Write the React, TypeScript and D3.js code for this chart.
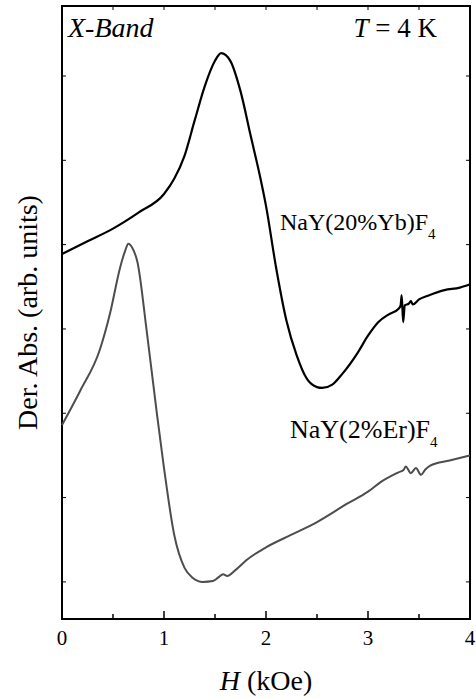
import React, {useEffect, useRef} from "react";
import * as d3 from "d3";

// field in kOe, derivative signal in arbitrary units (tick spacing = 1)
const ybField = [0, 0.25, 0.5, 0.75, 1.0, 1.1, 1.2, 1.3, 1.4, 1.5, 1.56, 1.65, 1.75, 1.85, 1.95, 2.0, 2.1, 2.2, 2.3, 2.4, 2.5, 2.55, 2.65, 2.75, 2.9, 3.0, 3.1, 3.2, 3.3, 3.32, 3.33, 3.345, 3.36, 3.4, 3.42, 3.44, 3.5, 3.6, 3.75, 3.9, 4.0];
const ybSignal = [3.89, 4.04, 4.19, 4.38, 4.60, 4.78, 5.05, 5.47, 5.88, 6.18, 6.27, 6.18, 5.82, 5.29, 4.76, 4.46, 3.72, 3.10, 2.69, 2.41, 2.31, 2.30, 2.34, 2.47, 2.72, 2.92, 3.08, 3.17, 3.24, 3.28, 3.40, 3.08, 3.28, 3.30, 3.33, 3.29, 3.35, 3.40, 3.46, 3.49, 3.53];

const erField = [0, 0.18, 0.37, 0.47, 0.57, 0.62, 0.65, 0.69, 0.74, 0.83, 0.93, 1.0, 1.1, 1.2, 1.28, 1.38, 1.48, 1.53, 1.58, 1.62, 1.7, 1.81, 2.0, 2.25, 2.5, 2.8, 3.0, 3.12, 3.3, 3.35, 3.37, 3.42, 3.47, 3.52, 3.56, 3.61, 3.8, 4.0];
const erSignal = [1.86, 2.27, 2.75, 3.18, 3.73, 3.93, 4.01, 3.96, 3.79, 2.98, 2.00, 1.35, 0.56, 0.17, 0.05, 0.0, 0.01, 0.05, 0.09, 0.07, 0.14, 0.26, 0.41, 0.56, 0.71, 0.93, 1.07, 1.18, 1.30, 1.33, 1.37, 1.29, 1.35, 1.27, 1.33, 1.38, 1.44, 1.50];

const xMajor = [0, 1, 2, 3, 4];
const xMinor = [0.5, 1.5, 2.5, 3.5];
const yTicks = [0, 1, 2, 3, 4, 5, 6];

const font = "Liberation Serif";

const App = () => {
    const ref = useRef<SVGSVGElement>(null);

    useEffect(() => {
        const w = 476;
        const h = 698;
        const left = 62, right = 470, top = 6, bottom = 619;

        const svg = d3.select(ref.current).attr("width", w).attr("height", h);
        svg.selectAll("*").remove();

        const x = d3.scaleLinear().domain([0, 4]).range([left, right]);
        const y = d3.scaleLinear().domain([-0.44, 6.83]).range([bottom, top]);

        // frame
        svg.append("rect")
            .attr("x", left).attr("y", top)
            .attr("width", right - left).attr("height", bottom - top)
            .attr("fill", "none").attr("stroke", "#000").attr("stroke-width", 2);

        // ticks
        const g = svg.append("g");
        xMajor.forEach(t => {
            g.append("line").attr("x1", x(t)).attr("x2", x(t)).attr("y1", bottom).attr("y2", bottom - 8)
                .attr("stroke", "#000").attr("stroke-width", 1.5);
            g.append("text").attr("x", x(t)).attr("y", bottom + 26)
                .attr("text-anchor", "middle").attr("font-family", font).attr("font-size", 21)
                .text(t);
        });
        xMinor.forEach(t => {
            g.append("line").attr("x1", x(t)).attr("x2", x(t)).attr("y1", bottom).attr("y2", bottom - 5)
                .attr("stroke", "#000").attr("stroke-width", 1.5);
        });
        [...xMajor, ...xMinor].forEach(t => {
            g.append("line").attr("x1", x(t)).attr("x2", x(t)).attr("y1", top).attr("y2", top + 4)
                .attr("stroke", "#000").attr("stroke-width", 1);
        });
        yTicks.forEach(t => {
            g.append("line").attr("x1", left).attr("x2", left + 4).attr("y1", y(t)).attr("y2", y(t))
                .attr("stroke", "#000").attr("stroke-width", 1);
            g.append("line").attr("x1", right).attr("x2", right - 4).attr("y1", y(t)).attr("y2", y(t))
                .attr("stroke", "#000").attr("stroke-width", 1);
        });

        const ybLine = d3.line<number>()
            .x((d, i) => x(ybField[i]))
            .y(d => y(d))
            .curve(d3.curveMonotoneX);
        const erLine = d3.line<number>()
            .x((d, i) => x(erField[i]))
            .y(d => y(d))
            .curve(d3.curveMonotoneX);

        svg.append("path").attr("d", erLine(erSignal))
            .attr("fill", "none").attr("stroke", "#4d4d4d").attr("stroke-width", 2);
        svg.append("path").attr("d", ybLine(ybSignal))
            .attr("fill", "none").attr("stroke", "#000").attr("stroke-width", 2.2);

        // annotations
        svg.append("text").attr("x", 68).attr("y", 37)
            .attr("font-family", font).attr("font-size", 28).attr("font-style", "italic")
            .text("X-Band");

        const tk = svg.append("text").attr("x", 437).attr("y", 37).attr("text-anchor", "end")
            .attr("font-family", font).attr("font-size", 27);
        tk.append("tspan").attr("font-style", "italic").text("T");
        tk.append("tspan").text(" = 4 K");

        const lab = (tx: number, ty: number, s: string, size: number) => {
            const t = svg.append("text").attr("x", tx).attr("y", ty)
                .attr("font-family", font).attr("font-size", size);
            t.append("tspan").text(s);
            t.append("tspan").attr("dy", 9).attr("font-size", 15).text("4");
        };
        lab(280, 230, "NaY(20%Yb)F", 24);
        lab(290, 438, "NaY(2%Er)F", 26);

        // axis titles
        const xt = svg.append("text").attr("x", (left + right) / 2).attr("y", 690)
            .attr("text-anchor", "middle").attr("font-family", font).attr("font-size", 28);
        xt.append("tspan").attr("font-style", "italic").text("H");
        xt.append("tspan").text(" (kOe)");

        svg.append("text")
            .attr("transform", `translate(37, ${(top + bottom) / 2}) rotate(-90)`)
            .attr("text-anchor", "middle").attr("font-family", font).attr("font-size", 28)
            .text("Der. Abs. (arb. units)");
    }, []);

    return (
        <div style={{position: "absolute", left: 0, top: 0}}>
            <svg ref={ref}></svg>
        </div>
    );
};

export default App;
